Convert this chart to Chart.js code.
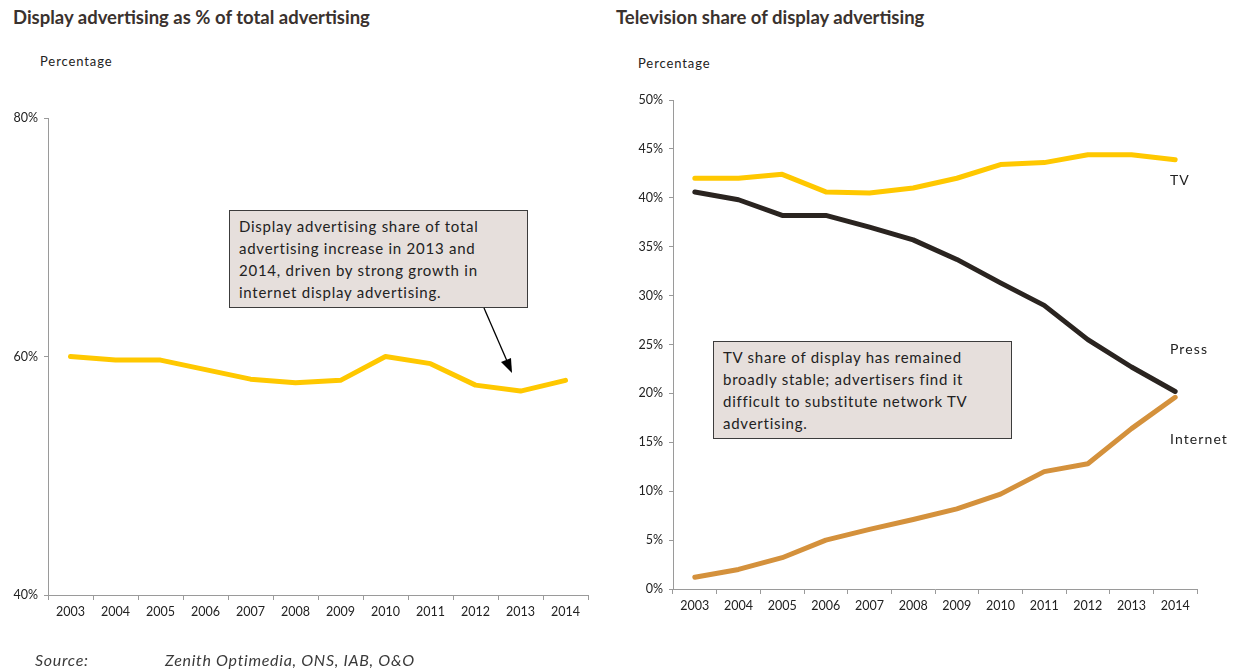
<!DOCTYPE html>
<html>
<head>
<meta charset="utf-8">
<script src="https://cdn.jsdelivr.net/npm/chart.js@4/dist/chart.umd.min.js"></script>
<style>
  html, body { margin: 0; padding: 0; background: #fff; }
  body { width: 1243px; height: 670px; position: relative; overflow: hidden; font-family: Lato, "Open Sans", sans-serif; color: #222; }
  canvas { position: absolute; top: 0; }
  .title { position: absolute; top: 5px; font-weight: bold; font-size: 18.5px; line-height: 24px; color: #3a322e; white-space: nowrap; }
  .unit { position: absolute; font-size: 13px; line-height: 16px; color: #222; letter-spacing: 0.9px; }
  .note { position: absolute; background: #e6dfdc; border: 1px solid #3c3c3c; box-sizing: border-box; font-size: 15px; line-height: 22px; color: #222; padding: 4px 0 0 9px; white-space: nowrap; letter-spacing: 0.75px; }
  .lbl { position: absolute; font-size: 14px; line-height: 18px; color: #222; letter-spacing: 1.1px; }
  .src { position: absolute; top: 650px; font-style: italic; font-size: 16px; line-height: 20px; color: #3a3a3a; letter-spacing: 0.7px; }
</style>
</head>
<body>
<div class="title" style="left:13px;">Display advertising as % of total advertising</div>
<div class="title" style="left:616px;">Television share of display advertising</div>
<div class="unit" style="left:40px; top:53px;">Percentage</div>
<div class="unit" style="left:638px; top:55px;">Percentage</div>

<canvas id="left" width="610" height="640" style="left:0;"></canvas>
<canvas id="right" width="633" height="640" style="left:610px;"></canvas>

<div class="note" style="left:229px; top:210px; width:299px; height:98px;">Display advertising share of total<br>advertising increase in 2013 and<br>2014, driven by strong growth in<br>internet display advertising.</div>
<div class="note" style="left:713px; top:341px; width:299px; height:98px;">TV share of display has remained<br>broadly stable; advertisers find it<br>difficult to substitute network TV<br>advertising.</div>

<svg style="position:absolute; left:0; top:0;" width="1243" height="670">
  <line x1="484" y1="308" x2="507" y2="361" stroke="#000" stroke-width="1.3"/>
  <polygon points="512,373 501,362 511,358" fill="#000"/>
</svg>

<div class="lbl" style="left:1170px; top:171px;">TV</div>
<div class="lbl" style="left:1170px; top:340px;">Press</div>
<div class="lbl" style="left:1170px; top:430px;">Internet</div>

<div class="src" style="left:35px;">Source:</div>
<div class="src" style="left:165px;">Zenith Optimedia, ONS, IAB, O&amp;O</div>

<script>
// Years shown on both horizontal axes
const years = ['2003', '2004', '2005', '2006', '2007', '2008', '2009', '2010', '2011', '2012', '2013', '2014'];

// Display advertising as % of total advertising
const displayShare = [60.0, 59.7, 59.7, 58.9, 58.1, 57.8, 58.0, 60.0, 59.4, 57.6, 57.1, 58.0];

// Shares of display advertising by medium (%)
const tvShare       = [42.0, 42.0, 42.4, 40.6, 40.5, 41.0, 42.0, 43.4, 43.6, 44.4, 44.4, 43.9];
const pressShare    = [40.6, 39.8, 38.2, 38.2, 37.0, 35.7, 33.7, 31.3, 29.0, 25.5, 22.7, 20.2];
const internetShare = [1.2, 2.0, 3.2, 5.0, 6.1, 7.1, 8.2, 9.7, 12.0, 12.8, 16.4, 19.6];

// Value-axis ranges
const leftAxis  = { min: 40, max: 80, step: 20 };
const rightAxis = { min: 0, max: 50, step: 5 };

const YELLOW = '#ffc800';
const DARK = '#2a2420';
const COPPER = '#d4913c';
const AXIS = '#9a9a9a';

Chart.defaults.font.family = 'Lato, "Open Sans", sans-serif';
Chart.defaults.font.size = 12.5;
Chart.defaults.color = '#222';

function lineSet(data, color) {
  return {
    data, borderColor: color, backgroundColor: color, borderWidth: 5,
    pointRadius: 0, tension: 0, borderCapStyle: 'round', borderJoinStyle: 'round'
  };
}

function scales(range, yWidth, xHeight) {
  return {
    x: {
      type: 'category', offset: true,
      grid: { display: true, drawOnChartArea: false, drawTicks: true, tickLength: 5, color: AXIS, offset: true },
      border: { display: true, color: AXIS, width: 1 },
      ticks: { padding: 4, maxRotation: 0, autoSkip: false, color: '#222' },
      afterFit: s => { s.height = xHeight; }
    },
    y: {
      min: range.min, max: range.max,
      grid: { display: true, drawOnChartArea: false, drawTicks: true, tickLength: 4, color: AXIS },
      border: { display: true, color: AXIS, width: 1 },
      ticks: { stepSize: range.step, padding: 6, color: '#222', callback: v => v + '%' },
      afterFit: s => { s.width = yWidth; }
    }
  };
}

function baseOptions(range, yWidth, xHeight, padding) {
  return {
    responsive: false, animation: false, devicePixelRatio: 1,
    layout: { padding },
    plugins: { legend: { display: false }, tooltip: { enabled: false } },
    scales: scales(range, yWidth, xHeight)
  };
}

new Chart(document.getElementById('left'), {
  type: 'line',
  data: { labels: years, datasets: [lineSet(displayShare, YELLOW)] },
  options: baseOptions(leftAxis, 48, 45, { top: 118, left: 0, right: 22, bottom: 0 })
});

new Chart(document.getElementById('right'), {
  type: 'line',
  data: {
    labels: years,
    datasets: [
      lineSet(tvShare, YELLOW),
      lineSet(pressShare, DARK),
      lineSet(internetShare, COPPER)
    ]
  },
  options: baseOptions(rightAxis, 63, 51, { top: 100, left: 0, right: 46, bottom: 0 })
});
</script>
</body>
</html>
